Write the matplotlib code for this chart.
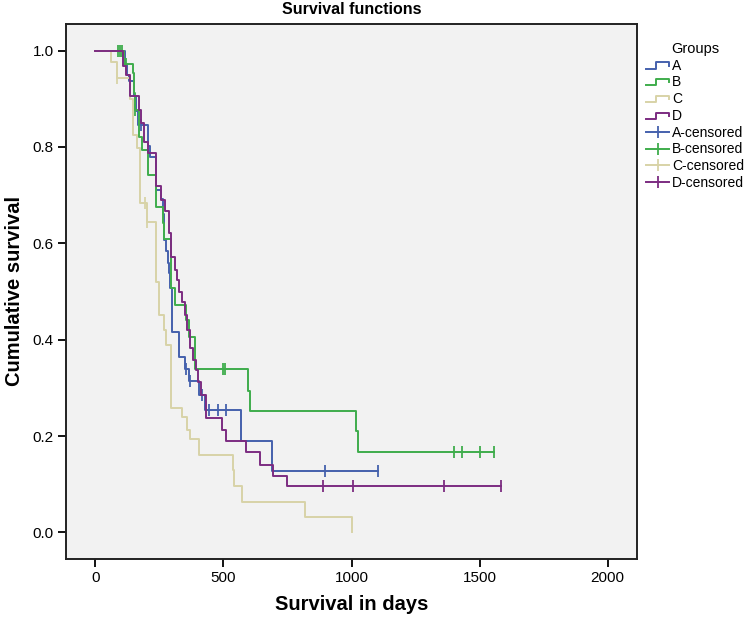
import numpy as np
import matplotlib
matplotlib.use('Agg')
import matplotlib.pyplot as plt
from matplotlib.lines import Line2D
from matplotlib.legend_handler import HandlerBase

plt.rcParams['font.family'] = ['Liberation Sans', 'DejaVu Sans']

groups = ['A', 'B', 'C', 'D']
colors = ['#4561ad', '#3fad4c', '#d8d3a7', '#7c2c81']

# event times (days) and survival right after each event
a_times = [115, 125, 130, 150, 160, 168, 204, 215, 237, 256, 262, 266, 276, 283, 289,
           292, 299, 328, 349, 367, 406, 426, 569, 689]
a_surv = [0.970, 0.950, 0.936, 0.905, 0.875, 0.846, 0.801, 0.780, 0.711, 0.692, 0.660,
          0.607, 0.583, 0.559, 0.538, 0.507, 0.416, 0.364, 0.340, 0.314, 0.285, 0.254,
          0.190, 0.127]
a_cens = [176, 354, 371, 416, 445, 478, 508, 896, 1105]

b_times = [113, 146, 150, 153, 172, 180, 204, 237, 263, 266, 296, 309, 354, 367, 387,
           594, 604, 1018, 1027]
b_surv = [0.973, 0.954, 0.912, 0.877, 0.820, 0.794, 0.742, 0.676, 0.642, 0.608, 0.507,
          0.472, 0.441, 0.406, 0.340, 0.294, 0.253, 0.211, 0.168]
b_cens = [87, 94, 103, 120, 156, 500, 507, 1402, 1430, 1500, 1555]

c_times = [59, 83, 136, 146, 163, 174, 200, 237, 247, 266, 276, 296, 338, 358, 368,
           406, 536, 543, 571, 819, 1001]
c_surv = [0.976, 0.942, 0.900, 0.825, 0.798, 0.684, 0.645, 0.520, 0.451, 0.421, 0.389,
          0.259, 0.240, 0.212, 0.193, 0.161, 0.129, 0.096, 0.063, 0.032, 0.0]
c_cens = [86, 195, 202]

d_times = [107, 118, 133, 135, 172, 178, 190, 204, 237, 256, 270, 286, 296, 309, 318,
           328, 339, 348, 357, 370, 380, 393, 400, 412, 432, 493, 510, 589, 641, 693, 749]
d_surv = [0.968, 0.950, 0.936, 0.905, 0.877, 0.850, 0.811, 0.787, 0.718, 0.690, 0.666,
          0.621, 0.572, 0.545, 0.524, 0.500, 0.479, 0.451, 0.420, 0.382, 0.358, 0.337,
          0.312, 0.285, 0.238, 0.213, 0.190, 0.167, 0.141, 0.118, 0.096]
d_cens = [890, 1005, 1360, 1585]

all_times = [a_times, b_times, c_times, d_times]
all_surv = [a_surv, b_surv, c_surv, d_surv]
all_cens = [a_cens, b_cens, c_cens, d_cens]


class StepHandler(HandlerBase):
    def create_artists(self, legend, orig_handle, xdescent, ydescent, width, height, fontsize, trans):
        xs = np.array([0, 0.45, 0.45, 1.0, 1.0]) * width - xdescent
        ys = np.array([0.1, 0.1, 0.75, 0.75, 0.4]) * height - ydescent
        ln = Line2D(xs, ys, color=orig_handle.get_color(), lw=orig_handle.get_linewidth())
        ln.set_transform(trans)
        return [ln]


W, H = 745, 620
fig = plt.figure(figsize=(W / 100, H / 100), dpi=100)
ax = fig.add_axes([66 / W, 1 - 559 / H, (637 - 66) / W, (559 - 24) / H])
ax.set_facecolor('#f2f2f2')

lw = 1.4
for i in range(4):
    t = np.array(all_times[i], dtype=float)
    s = np.array(all_surv[i])
    c = np.array(all_cens[i], dtype=float)
    end = max(t[-1], c.max() if len(c) else 0)
    x = np.concatenate([[0], t, [end]])
    y = np.concatenate([[1.0], s, [s[-1]]])
    ax.step(x, y, where='post', color=colors[i], lw=lw, zorder=2 + i)
    # survival level at each censoring time
    idx = np.searchsorted(t, c, side='right')
    cy = np.where(idx == 0, 1.0, s[np.maximum(idx - 1, 0)])
    ax.plot(c, cy, ls='none', marker='|', ms=8, mew=1.3, color=colors[i], zorder=2 + i)

ax.set_xlim(-115, 2115)
ax.set_ylim(-0.055, 1.055)
ax.set_xticks([0, 500, 1000, 1500, 2000])
ax.set_yticks([0.0, 0.2, 0.4, 0.6, 0.8, 1.0])
ax.set_yticklabels(['0.0', '0.2', '0.4', '0.6', '0.8', '1.0'])
ax.tick_params(direction='out', length=6, width=1.3, labelsize=11, pad=3)
for sp in ax.spines.values():
    sp.set_linewidth(1.4)
    sp.set_color('#222222')

fig.text((66 + 637) / 2 / W, 1 - 10 / H, 'Survival functions', ha='center', va='center',
         fontsize=11.5, fontweight='bold')
fig.text((66 + 637) / 2 / W, 1 - 604 / H, 'Survival in days', ha='center', va='center',
         fontsize=14.5, fontweight='bold')
fig.text(15 / W, 1 - 291 / H, 'Cumulative survival', ha='center', va='center',
         rotation=90, fontsize=14.5, fontweight='bold')

handles = []
labels = []
for i in range(4):
    handles.append(Line2D([], [], color=colors[i], lw=lw))
    labels.append(groups[i])
for i in range(4):
    h = Line2D([], [], color=colors[i], lw=lw, marker='|', ms=9, mew=1.3)
    handles.append(h)
    labels.append(groups[i] + '-censored')

hmap = {h: StepHandler() for h in handles[:4]}
leg = fig.legend(handles, labels, loc='upper left', bbox_to_anchor=(636 / W, 1 - 32 / H),
                 frameon=False, title='Groups', fontsize=10, title_fontsize=10.5,
                 handlelength=1.7, handletextpad=0.2, labelspacing=0.2, borderpad=0.2,
                 numpoints=1, handler_map=hmap)

fig.savefig('out.png', dpi=100)
